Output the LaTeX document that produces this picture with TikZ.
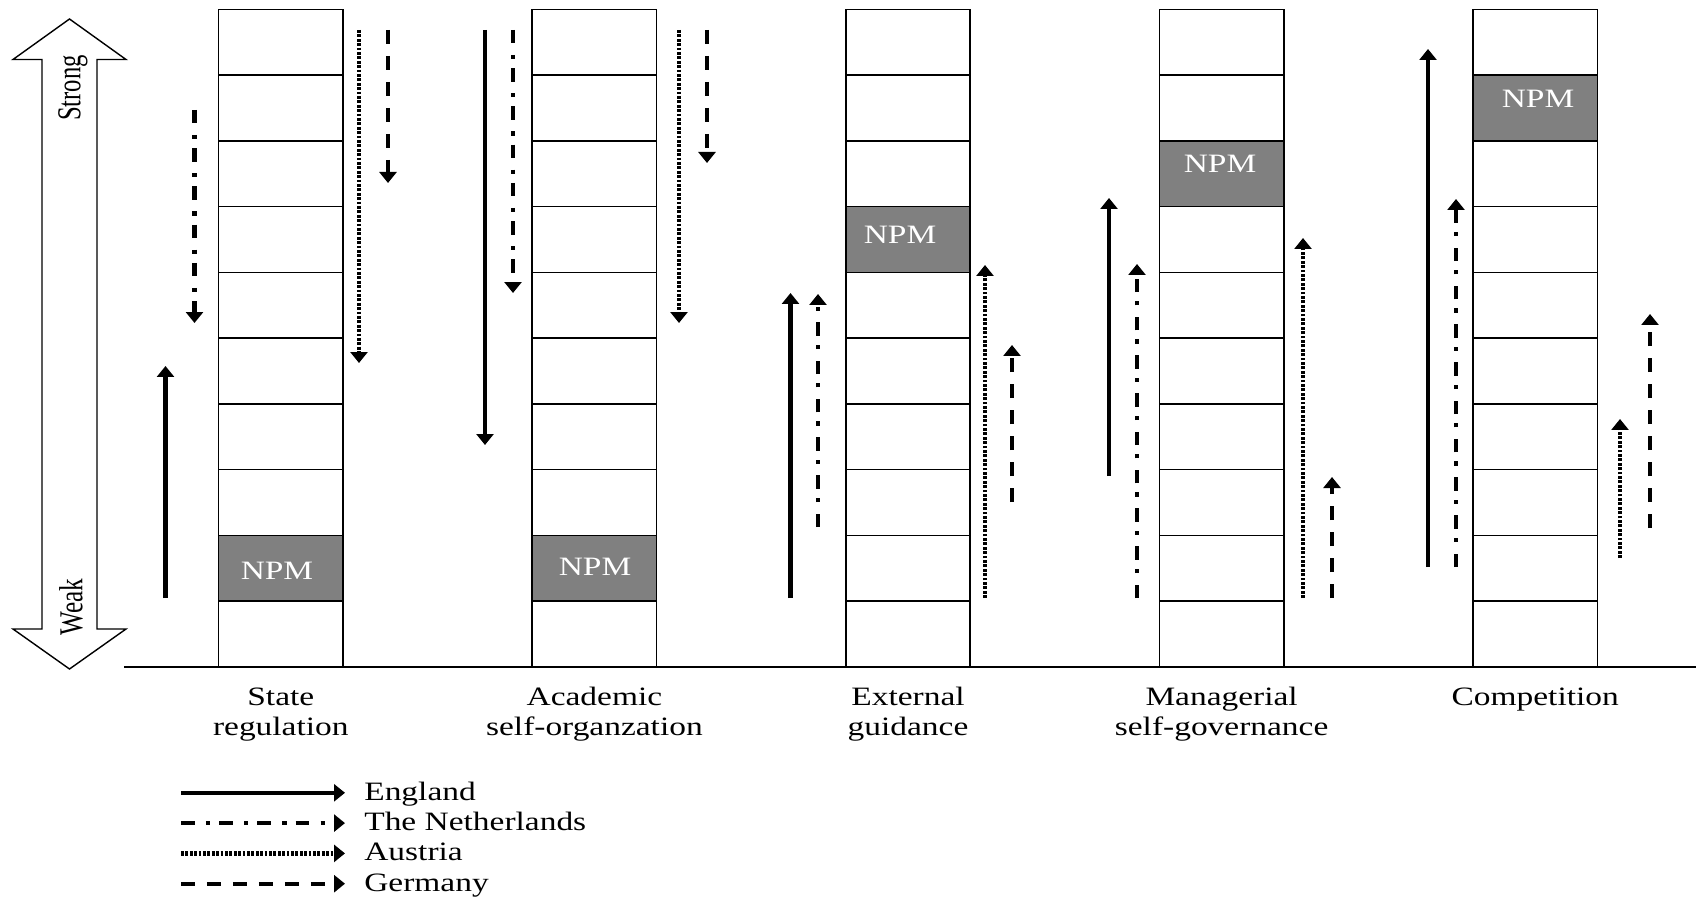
\documentclass[tikz,border=0pt]{standalone}
\usepackage{fontspec}
\setmainfont{Liberation Serif}
\usetikzlibrary{arrows.meta}
\definecolor{npmgray}{HTML}{808080}
\newcommand{\wide}[1]{\scalebox{1.26}[1]{#1}}
\newcommand{\twolines}[2]{\wide{\begin{tabular}[t]{@{}c@{}}#1\\#2\end{tabular}}}

\tikzset{
	cell/.style={draw, line width=0.9pt},
	npmcell/.style={cell, fill=npmgray},
	npm/.style={text=white, inner sep=0pt, font=\fontsize{15.1}{15.6}\selectfont},
	lab/.style={inner sep=0pt, anchor=base, font=\fontsize{15.1}{16.8}\selectfont},
	key/.style={inner sep=0pt, anchor=base west, font=\fontsize{15.1}{15.6}\selectfont},
	eng/.style={line width=2.5pt, arrows=->},
	neth/.style={line width=2.5pt, dash pattern=on 0.27cm off 0.23cm on 0.085cm off 0.18cm, arrows=->},
	aus/.style={line width=2.6pt, dash pattern=on 0.056cm off 0.032cm, arrows=->},
	ger/.style={line width=2.5pt, dash pattern=on 0.28cm off 0.24cm, arrows=->}
}

\begin{document}
\begin{tikzpicture}[x=0.02cm, y=-0.02cm, >={Triangle[length=0.22cm, width=0.34cm]}]
	\useasboundingbox (0,0) rectangle (1696,898);
	\draw[line width=0.8pt] (69.5,19) -- (126,59.5) -- (97,59.5) -- (97,629) -- (126,629) -- (69.5,669) -- (13,629) -- (42,629) -- (42,59.5) -- (13,59.5) -- cycle;
	\node (strong) at (73,88) {\rotatebox{90}{\fontsize{15.1}{15.6}\selectfont\scalebox{0.93}[1.26]{Strong}}};
	\node (weak) at (71,607) {\rotatebox{90}{\fontsize{15.1}{15.6}\selectfont\scalebox{0.95}[1.26]{Weak}}};
	\foreach \x in {218.5,532.1,845.7,1159.3,1472.9}
		\foreach \r in {0,...,9}
			\draw[cell] (\x,9.3+65.77*\r) rectangle ++(124.5,65.77);
	\filldraw[npmcell] (218.5,9.3+65.77*8) rectangle ++(124.5,65.77);
	\filldraw[npmcell] (532.1,9.3+65.77*8) rectangle ++(124.5,65.77);
	\filldraw[npmcell] (845.7,9.3+65.77*3) rectangle ++(124.5,65.77);
	\filldraw[npmcell] (1159.3,9.3+65.77*2) rectangle ++(124.5,65.77);
	\filldraw[npmcell] (1472.9,9.3+65.77*1) rectangle ++(124.5,65.77);
	\node[npm] (npm1) at (277,571) {\wide{NPM}};
	\node[npm] (npm2) at (595,567) {\wide{NPM}};
	\node[npm] (npm3) at (900,235) {\wide{NPM}};
	\node[npm] (npm4) at (1220,164) {\wide{NPM}};
	\node[npm] (npm5) at (1538,99) {\wide{NPM}};
	\draw[line width=0.8pt] (124,667) -- (1696,667);
	\node[lab] (state) at (280.8,705.5) {\twolines{State}{regulation}};
	\node[lab] (acad) at (594.4,705.5) {\twolines{Academic}{self-organzation}};
	\node[lab] (ext) at (908,705.5) {\twolines{External}{guidance}};
	\node[lab] (man) at (1221.6,705.5) {\twolines{Managerial}{self-governance}};
	\node[lab] (comp) at (1535.2,705.5) {\wide{Competition}};
	\draw[eng] (165.5,598) -- (165.5,366);
	\draw[neth] (194.5,110) -- (194.5,323);
	\draw[aus] (359,30) -- (359,363);
	\draw[ger] (388,30) -- (388,183);
	\draw[eng] (485,30) -- (485,445);
	\draw[neth] (513,30) -- (513,293);
	\draw[aus] (679,30) -- (679,323);
	\draw[ger] (707,30) -- (707,163);
	\draw[eng] (790.5,598) -- (790.5,293);
	\draw[neth] (818,527) -- (818,294);
	\draw[aus] (985,598) -- (985,265);
	\draw[ger] (1012,502) -- (1012,345);
	\draw[eng] (1109,476) -- (1109,198);
	\draw[neth] (1137,598) -- (1137,264);
	\draw[aus] (1303,598) -- (1303,238);
	\draw[ger] (1332,598) -- (1332,477);
	\draw[eng] (1428,567) -- (1428,49);
	\draw[neth] (1456,567) -- (1456,199);
	\draw[aus] (1620,558) -- (1620,419);
	\draw[ger] (1650,528) -- (1650,314);
	\draw[eng] (181,792.8) -- (345,792.8);
	\draw[neth] (181,823.1) -- (345,823.1);
	\draw[aus] (181,853.4) -- (345,853.4);
	\draw[ger] (181,883.7) -- (345,883.7);
	\node[key] (england) at (364,800.3) {\wide{England}};
	\node[key] (nether) at (364,830.6) {\wide{The Netherlands}};
	\node[key] (austria) at (364,860.9) {\wide{Austria}};
	\node[key] (germany) at (364,891.2) {\wide{Germany}};
\end{tikzpicture}
\end{document}
